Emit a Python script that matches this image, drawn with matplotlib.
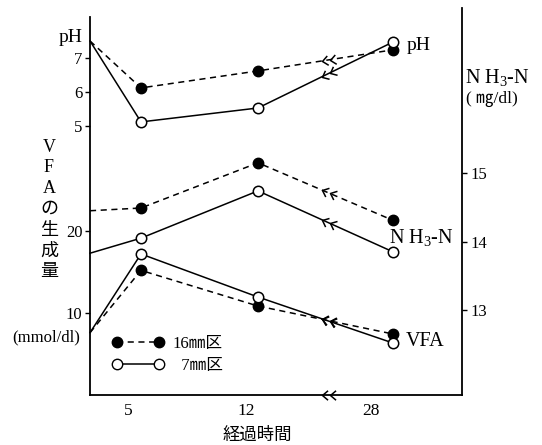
import numpy as np
import matplotlib
matplotlib.use("Agg")
import matplotlib.pyplot as plt
from matplotlib.path import Path
from matplotlib.markers import MarkerStyle
from matplotlib.transforms import Affine2D
from matplotlib.lines import Line2D

plt.rcParams['font.family'] = ['Liberation Serif', 'Noto Sans CJK JP']
plt.rcParams['mathtext.fontset'] = 'custom'
plt.rcParams['mathtext.rm'] = 'Liberation Serif'

# ---------------- data ----------------
days = [0, 5, 12, 28]
tick_days = [5, 12, 28]
tick_labels = ["5", "12", "28"]

ph_16 = [7.5, 6.12, 6.62, 7.24]
ph_7 = [7.5, 5.12, 5.53, 7.47]
nh3_16 = [14.45, 14.49, 15.15, 14.31]
nh3_7 = [13.83, 14.05, 14.74, 13.85]
vfa_16 = [7.6, 15.2, 10.85, 7.44]
vfa_7 = [7.6, 17.2, 11.95, 6.34]

legend_labels = ["16㎜区", "  7㎜区"]

# ---------------- layout ----------------
W, H = 542, 445
fig = plt.figure(figsize=(W / 100, H / 100), dpi=100)

def fx(px):
    return px / W

def fy(py):
    return 1 - py / H

left, right, bottom, top = 90, 462, 395, 8
rect = [fx(left), fy(bottom), (right - left) / W, (bottom - top) / H]

# schematic (non-linear) time axis
knot_day = np.array([0, 5, 12, 28, 36], dtype=float)
knot_pos = np.array([0, 51, 168, 303, 372], dtype=float)

def fwd(x):
    return np.interp(x, knot_day, knot_pos)

def inv(p):
    return np.interp(p, knot_pos, knot_day)

ax = fig.add_axes(rect)
ax.set_xscale('function', functions=(fwd, inv))
ax.set_xlim(0, 36)
ax.set_ylim(0, 47.2)

ax_ph = fig.add_axes(rect, sharex=ax)
ax_ph.patch.set_visible(False)
ax_ph.set_ylim(-2.91, 8.47)

ax_nh = ax.twinx()
ax_nh.set_ylim(11.76, 17.41)

for s in ['top', 'right']:
    ax.spines[s].set_visible(False)
ax.spines['left'].set_bounds(0, 46.1)
for s in ax_ph.spines.values():
    s.set_visible(False)
ax_ph.xaxis.set_visible(False)
for s in ['top', 'left', 'bottom']:
    ax_nh.spines[s].set_visible(False)
for a in (ax, ax_nh):
    for s in a.spines.values():
        s.set_linewidth(1.3)

ax.set_xticks([])
ax.set_yticks([10, 20])
ax_ph.set_yticks([5, 6, 7])
ax_nh.set_yticks([13, 14, 15])
for a in (ax, ax_ph):
    a.tick_params(axis='y', direction='out', length=3.5, width=1, pad=2, labelsize=12)
ax_nh.tick_params(axis='y', direction='out', length=3.5, width=1, pad=2.5, labelsize=12)

dash = (0, (4, 3))
ms = 7.5
series = [(ax_ph, ph_16, ph_7), (ax_nh, nh3_16, nh3_7), (ax, vfa_16, vfa_7)]
for a, v16, v7 in series:
    a.plot(days, v16, color='k', lw=1.1, ls=dash, marker='o', ms=ms, mfc='k', mec='k',
           markevery=[1, 2, 3], clip_on=False, zorder=3)
    a.plot(days, v7, color='k', lw=1.1, ls='-', marker='o', ms=ms, mfc='white', mec='k',
           mew=1.1, markevery=[1, 2, 3], clip_on=False, zorder=4)

# axis-break chevrons
chev = Path([(1, 0.85), (0, 0), (1, -0.85)], [Path.MOVETO, Path.LINETO, Path.LINETO])
break_days = [19.6, 20.5]
fig.canvas.draw()
for a, v16, v7 in series:
    for v in (v16, v7):
        p1 = a.transData.transform((days[2], v[2]))
        p2 = a.transData.transform((days[3], v[3]))
        ang = np.degrees(np.arctan2(p2[1] - p1[1], p2[0] - p1[0]))
        m = MarkerStyle(chev, transform=Affine2D().rotate_deg(ang))
        yb = np.interp(break_days, days, v)
        a.plot(break_days, yb, ls='none', marker=m, ms=8, mec='k', mfc='none', mew=1.1,
               zorder=5)
ax.plot(break_days, [0, 0], ls='none', marker=MarkerStyle(chev), ms=8, mec='k',
        mfc='none', mew=1.1, clip_on=False, zorder=5)

# x tick labels (drawn slightly left of points as in the original)
tick_dx = [-13, -12, -22]
for d, lab, dx in zip(tick_days, tick_labels, tick_dx):
    ax.annotate(lab, xy=(d, 0), xycoords=('data', 'axes fraction'),
                xytext=(dx, -16), textcoords='offset pixels',
                ha='center', va='center', fontsize=12.5)

fig.text(fx(257), fy(436), "経過時間", ha='center', va='center', fontsize=12.5)

# left labels
fig.text(fx(71), fy(38), "pH", ha='center', va='center', fontsize=14)
vchars = ["V", "F", "A", "の", "生", "成", "量"]
for i, c in enumerate(vchars):
    fig.text(fx(49), fy(147 + i * 20.8), c, ha='center', va='center', fontsize=13)
fig.text(fx(46), fy(337), "(mmol/dl)", ha='center', va='center', fontsize=12)

# right labels
fig.text(fx(465), fy(78), r"N H$_\mathrm{3}$-N", ha='left', va='center', fontsize=14.5)
fig.text(fx(466), fy(99), "( ㎎/dl)", ha='left', va='center', fontsize=12.5)

# series labels
fig.text(fx(407), fy(45), "pH", ha='left', va='center', fontsize=14)
fig.text(fx(389), fy(238), r"N H$_\mathrm{3}$-N", ha='left', va='center', fontsize=14.5)
fig.text(fx(406), fy(341), "VFA", ha='left', va='center', fontsize=14.5)

# legend
h16 = Line2D([], [], color='k', lw=1.1, ls=dash, marker='o', ms=ms, mfc='k', mec='k')
h7 = Line2D([], [], color='k', lw=1.1, ls='-', marker='o', ms=ms, mfc='white', mec='k')
ax.legend([h16, h7], legend_labels, loc='upper left',
          bbox_to_anchor=(fx(112), fy(336)), bbox_transform=fig.transFigure,
          frameon=False, numpoints=2, handlelength=3.1, handletextpad=0.55,
          borderpad=0, borderaxespad=0, labelspacing=0.35, fontsize=12)

fig.savefig("out.png", dpi=100)
